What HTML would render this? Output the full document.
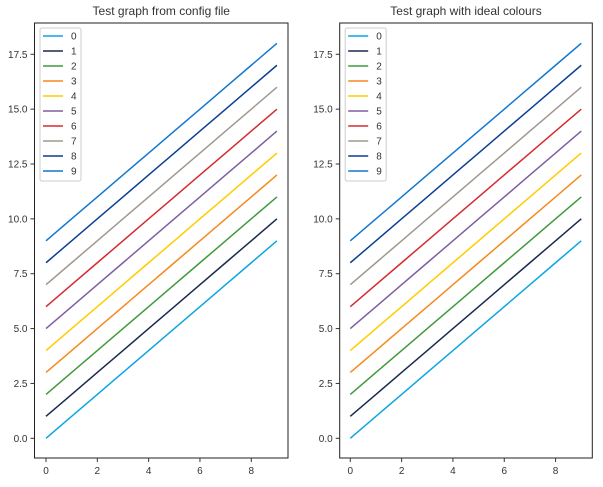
<!DOCTYPE html>
<html><head><meta charset="utf-8"><style>
body{margin:0;background:#fff;font-family:"Liberation Sans",sans-serif;}
svg text{font-family:"Liberation Sans",sans-serif;fill:#333;}
</style></head><body>
<svg id="c" width="603" height="482" xmlns="http://www.w3.org/2000/svg"></svg>
<script>
const xs=[0,1,2,3,4,5,6,7,8,9];
const seriesNames=["0","1","2","3","4","5","6","7","8","9"];
const offsets=[0,1,2,3,4,5,6,7,8,9];
const colors=["#0ca5e0","#1a2a4f","#3f9a3a","#f5891e","#ffcc00","#7e5ea0","#d62a2f","#a09890","#0c3f94","#1177d0"];
const xTicks=[0,2,4,6,8];
const yTicks=[0,2.5,5,7.5,10,12.5,15,17.5];
const yTickLabels=["0.0","2.5","5.0","7.5","10.0","12.5","15.0","17.5"];
const titles=["Test graph from config file","Test graph with ideal colours"];
const NS="http://www.w3.org/2000/svg";
const svgEl=document.getElementById('c');
function mk(t,a,p){const e=document.createElementNS(NS,t);for(const k in a)e.setAttribute(k,a[k]);(p||svgEl).appendChild(e);return e;}
const panels=[{l:34.5,r:288,x0:46},{l:339.7,r:592.3,x0:350.3}];
const plotTop=23,plotBot=458,y0=438.3,ppy=54.86/2.5,ppx=25.66;
panels.forEach((P,pi)=>{
  const g=mk('g',{});
  
  
  const X=v=>P.x0+v*ppx, Y=v=>y0-v*ppy;
  const t=mk('text',{x:(P.l+P.r)/2,y:15,'text-anchor':'middle','font-size':'12'},g);t.textContent=titles[pi];
  
  
  offsets.forEach((o,i)=>{
    const pts=xs.map(x=>X(x)+','+Y(x+o)).join(' ');
    const l=mk('polyline',{points:pts,fill:'none',stroke:colors[i],'stroke-width':1.5},g);
    
    
  });
  const fr=mk('rect',{x:P.l,y:plotTop,width:P.r-P.l,height:plotBot-plotTop,fill:'none',stroke:'#222','stroke-width':1},g);
  
  
  xTicks.forEach(v=>{
    mk('line',{x1:X(v),x2:X(v),y1:plotBot,y2:plotBot+4,stroke:'#333'},g);
    const tx=mk('text',{x:X(v),y:plotBot+16,'text-anchor':'middle','font-size':'10'},g);tx.textContent=v;
    
    
  });
  yTicks.forEach((v,i)=>{
    mk('line',{x1:P.l-4,x2:P.l,y1:Y(v),y2:Y(v),stroke:'#333'},g);
    const tx=mk('text',{x:P.l-7,y:Y(v)+3.5,'text-anchor':'end','font-size':'10'},g);tx.textContent=yTickLabels[i];
    
    
  });
  const lg=mk('g',{},g);
  
  
  const lx=P.l+5.5;
  mk('rect',{x:lx,y:28,width:41,height:153,rx:2,fill:'#fff',stroke:'#ccc'},lg);
  seriesNames.forEach((n,i)=>{
    const yy=36+i*15;
    mk('line',{x1:lx+3,x2:lx+23,y1:yy,y2:yy,stroke:colors[i],'stroke-width':1.5},lg);
    const tx=mk('text',{x:lx+31,y:yy+3.5,'font-size':'10'},lg);tx.textContent=n;
    
    
  });
});
</script>
</body></html>
